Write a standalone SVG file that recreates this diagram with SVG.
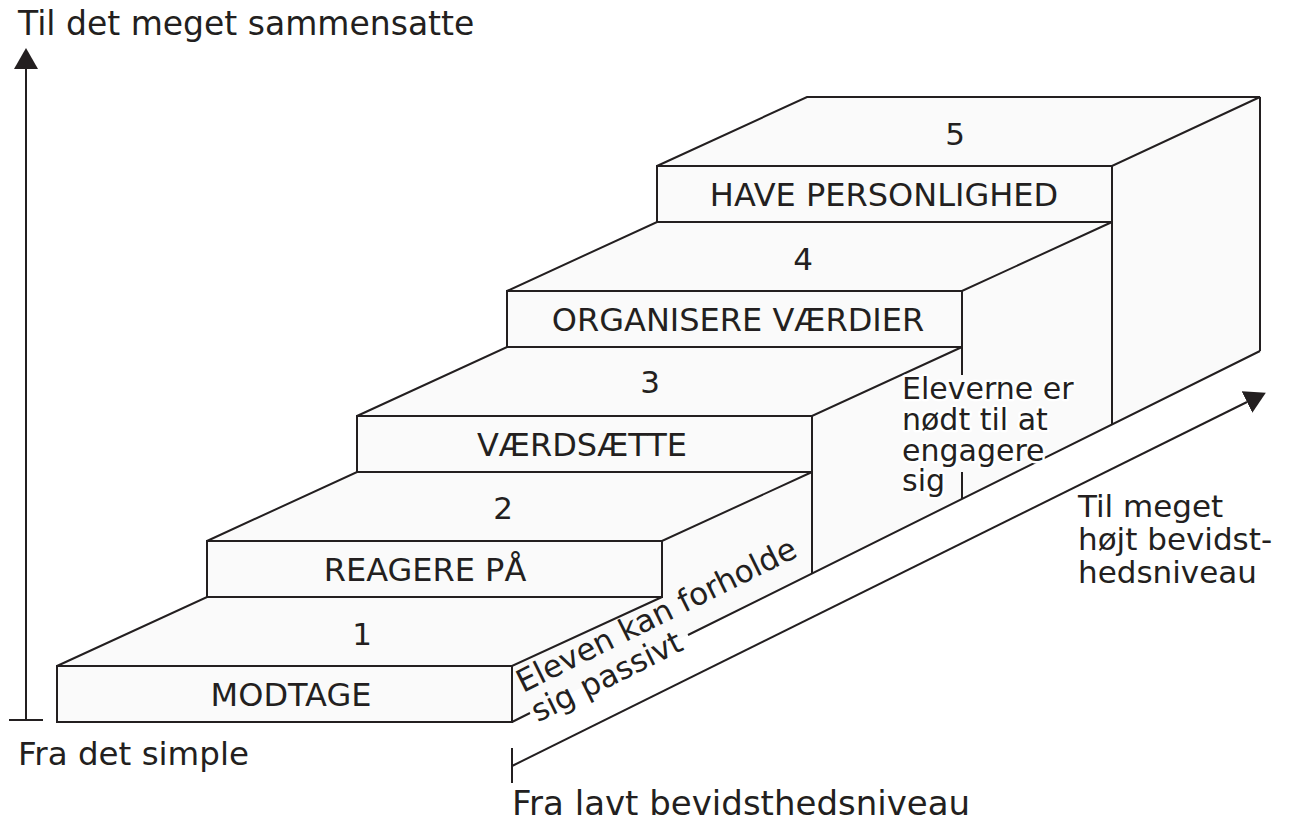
<svg xmlns="http://www.w3.org/2000/svg" width="1293" height="829" viewBox="0 0 1293 829">
<style>
.face{fill:#fafafa;stroke:#231f20;stroke-width:2;stroke-linejoin:miter}
.fill{fill:#fafafa;stroke:none}
.ln{fill:none;stroke:#231f20;stroke-width:2}
.t{font-family:"DejaVu Sans",sans-serif;fill:#231f20}
.lab{font-size:32px;text-anchor:middle}
.num{font-size:31px;text-anchor:middle}
.ax{font-size:31px}
.halo{paint-order:stroke;stroke:#fff;stroke-width:5;stroke-linejoin:round}
</style>
<defs>
<marker id="arr" markerUnits="userSpaceOnUse" viewBox="0 0 21 24" refX="0" refY="12" markerWidth="21" markerHeight="24" orient="auto">
<path d="M0,0 L21,12 L0,24 z" fill="#231f20"/>
</marker>
</defs>
<rect width="1293" height="829" fill="#fff"/>

<g id="side">
<polygon class="fill" points="512,722 512,666 662,597 662,541 812,472 812,416 962,347 962,291 1112,222 1112,166 1260,97 1260,351"/>
<path class="ln" d="M1260,97 L1260,351 M812,416 L812,573 M962,291 L962,375 M962,472 L962,499 M1112,166 L1112,424"/>
<path class="ln" d="M512,722 L530,713 M688,635 L1260,351"/>
</g>

<g id="step1">
<polygon class="face" points="57,666 207,597 662,597 512,666"/>
<rect class="face" x="57" y="666" width="455" height="56"/>
<text class="t lab" x="291" y="706">MODTAGE</text>
<text class="t num" x="362" y="645">1</text>
</g>
<g id="step2">
<polygon class="face" points="207,541 357,472 812,472 662,541"/>
<rect class="face" x="207" y="541" width="455" height="56"/>
<text class="t lab" x="425" y="581">REAGERE PÅ</text>
<text class="t num" x="503" y="519">2</text>
</g>
<g id="step3">
<polygon class="face" points="357,416 507,347 962,347 812,416"/>
<rect class="face" x="357" y="416" width="455" height="56"/>
<text class="t lab" x="582" y="456">VÆRDSÆTTE</text>
<text class="t num" x="650" y="393">3</text>
</g>
<g id="step4">
<polygon class="face" points="507,291 657,222 1112,222 962,291"/>
<rect class="face" x="507" y="291" width="455" height="56"/>
<text class="t lab" x="738" y="331">ORGANISERE VÆRDIER</text>
<text class="t num" x="803" y="270">4</text>
</g>
<g id="step5">
<polygon class="face" points="657,166 807,97 1260,97 1112,166"/>
<rect class="face" x="657" y="166" width="455" height="56"/>
<text class="t lab" x="884" y="206">HAVE PERSONLIGHED</text>
<text class="t num" x="955" y="145">5</text>
</g>

<g id="connectors">
<path class="ln" d="M26,720 L26,69" marker-end="url(#arr)"/>
<path class="ln" d="M9,720 L43,720"/>
<path class="ln" d="M512,748 L512,783"/>
<path class="ln" d="M512,766 L1247,402" marker-end="url(#arr)"/>
</g>

<g id="labels">
<text class="t ax" x="18" y="35" style="font-size:33px">Til det meget sammensatte</text>
<text class="t ax" x="18" y="765" style="font-size:32.5px">Fra det simple</text>
<text class="t ax" x="512" y="815" style="font-size:34px">Fra lavt bevidsthedsniveau</text>
<text class="t ax" style="font-size:31px"><tspan x="1078" y="517">Til meget</tspan><tspan x="1078" y="550">højt bevidst-</tspan><tspan x="1078" y="583">hedsniveau</tspan></text>
<text class="t ax halo" style="font-size:30px"><tspan x="902" y="399">Eleverne er</tspan><tspan x="902" y="430">nødt til at</tspan><tspan x="902" y="461">engagere</tspan><tspan x="902" y="491">sig</tspan></text>
<text class="t ax" transform="translate(523,693) rotate(-26.4)" style="font-size:31px"><tspan x="0" y="0">Eleven kan forholde</tspan><tspan x="0" y="33">sig passivt</tspan></text>
</g>
</svg>
